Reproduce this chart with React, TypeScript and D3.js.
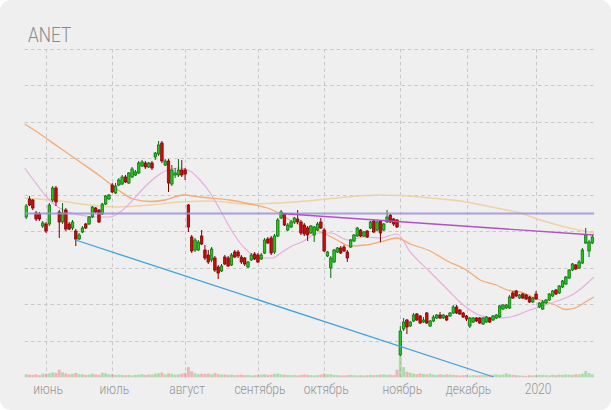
import React from "react";
import * as d3 from "d3";

const W = 611;
const H = 410;
const TICKER = "ANET";
const START_DAY = new Date(2019, 4, 23);
const END_DAY = new Date(2020, 0, 29);
const HOLIDAYS = ["2019-05-27", "2019-07-04", "2019-09-02", "2019-11-28", "2019-12-25", "2020-01-01", "2020-01-20"];
const MONTH_LABELS = ["июнь", "июль", "август", "сентябрь", "октябрь", "ноябрь", "декабрь", "2020"];

const OPEN = [261.5,270.5,270,263.5,263,257,258,258,270,276,
264,259,265,258,256,254.5,250.5,254,258,258,
261.5,266,265,263,268,270.5,277.5,273.5,277.5,278,
281.5,278.5,281.5,282.5,283.5,287,288.5,286.5,288.5,291.5,
293,298.5,287.5,289.5,278,282.5,282.5,285,285,267.5,
251.5,245,245,252,245,242.5,240,241,236.5,234.5,
241.5,241,237.5,244,244,241.5,241,236.5,240,243,
242.5,240.5,243.5,250.5,251,244,252,261,263,255,
256.5,259,260.5,259,257.5,256,253.5,252.5,255,259,
255,242,236,239,244,246,246.5,244,246.5,249.5,
252,255,252,254.5,256,259.5,255,259.5,255,259,
262.5,260.5,260,192.5,205.5,210,207,209.5,213,212,
209,213.5,207,209.5,211,212.5,211,212,212,213.5,
216.5,215,213.5,212,207,209,211,211,208,209,
211,210,211,211.5,215.5,216,216,223.5,224.5,221,
223,222.5,221.5,219,223,216.5,215.5,218.5,220,222,
225,223.5,226.5,228,231,235,237.5,236,238.5,248.5,
244.5,248.5];

const CLOSE = [267,267.5,266,260.5,260.5,258.5,254.5,267.5,276,269,
259,263.5,255.5,255.5,259,250.5,252.5,256,256,261.5,
266.5,264,259,268,272,272.5,274,277,280,281.5,
279,283.5,285.5,284,288.5,289,286.5,288.5,286,293.5,
297.5,289.5,289.5,278.5,285,283.5,285,282.5,283,256.5,
244.5,250,249,248,241,239,245.5,235,233.5,237,
238,237,242.5,241.5,242,239,238,239,242.5,240.5,
239,242.5,250,248.5,243.5,252,260,264,257.5,257.5,
259,261,259,253.5,253,252.5,257,256.5,258,256,
244.5,244,241,245,246,243.5,244.5,241,250,252.5,
256,252,254,251.5,259,254,259,253.5,258,261.5,
259,258,256.5,204.5,209,206.5,209,212.5,210,208.5,
210,208.5,209.5,211.5,212.5,211,212.5,210,213.5,216.5,
213.5,213,211.5,210.5,211,211,209.5,208.5,211,211.5,
209,212,212.5,217,217.5,217.5,221.5,221,222,222.5,
221,220.5,219,221,220.5,218.5,219,220,223,224.5,
223,227,229.5,231.5,235,238,235.5,239,245,252.5,
249,251.5];

const HIGH = [268,272,270.5,264.5,264,259.5,259,268.5,277,277,
265,268.5,266,259,260,255.5,253.5,257,258.5,262,
267,266.5,265.5,268.5,272.5,273,278.5,278.5,281,282.5,
282.5,284,286.5,285,289.5,290,289.5,289,289.5,294,
299.5,299.5,290.5,290.5,287.5,286,290.5,290,286,268,
252.5,251,250,255,247.5,245,246.5,242,237.5,238,
242.5,242,243.5,245,245,242.5,241.5,239.5,243.5,244,
243.5,243.5,251,251.5,252,253,261,265,263.5,258.5,
260,261.5,265,260,258.5,257,257.5,257,259,261,
256,244.5,242,245.5,246.5,247,247.5,245,250.5,253,
256.5,255.5,254.5,255,259.5,260,259.5,260,258.5,265,
263,261,260.5,207,211,210.5,209.5,213.5,213.5,212.5,
211.5,214,210,212.5,213,214,213,212.5,214,217.5,
217.5,215.5,214,212.5,211.5,211.5,211.5,211.5,211.5,212,
211.5,212.5,213,217.5,218,218,222.5,224.5,225,223,
223.5,223,222,221.5,224.5,219,220,220.5,223.5,225,
225.5,227.5,230,232,235.5,238.5,238,240,246,256,
250,252.5];

const LOW = [260.5,267,265,259.5,259.5,256,253.5,257,269,267,
251,258,254.5,255,255,247,250,253.5,255.5,257.5,
261,263.5,258.5,262.5,267.5,270,273.5,273,277,277.5,
278.5,278,281,282,283,286.5,285.5,286,285,290,
292,288.5,287,274,277,281,281.5,281.5,280,254,
243.5,244,244.5,247.5,240,238,239,234,230.5,234,
237.5,236.5,237,241,241,238,237,236,239.5,240,
238.5,240,243,248,242.5,243,251.5,260.5,257,254.5,
256,258,258,252.5,252,249.5,253,249,254.5,255.5,
244,241.5,231,238.5,243.5,243,244,239,246,249,
251.5,251.5,251.5,251,255.5,253.5,254.5,249,254.5,258.5,
258.5,257,256,192,204.5,203,206.5,209,209.5,208,
208.5,208,206.5,209,210.5,210.5,210.5,209.5,211.5,213,
213,212.5,211,209.5,206,208.5,209,208,207.5,208.5,
208.5,209.5,210.5,211,215,215.5,215.5,220.5,221.5,220.5,
220.5,220,218.5,218.5,220,216,215,218,219.5,221.5,
222.5,223,226,227.5,230.5,234.5,235,235.5,238,248,
241.5,248];

const VOLUME = [1.3,1.1,1.0,1.2,0.9,1.5,1.4,1.6,2.0,1.8,
3.0,2.0,1.6,1.2,1.4,1.8,1.3,1.2,1.0,1.1,
1.5,1.2,1.0,1.8,1.6,1.2,1.3,1.0,1.1,1.0,
0.9,1.0,0.8,1.0,1.1,1.3,1.0,1.2,1.1,1.5,
1.6,1.9,1.2,1.6,1.4,1.1,1.2,1.5,1.8,4.0,
2.4,1.6,1.3,1.5,1.4,1.5,1.2,1.7,1.3,1.1,
1.2,1.0,1.1,0.9,1.0,1.1,0.9,1.0,0.8,0.9,
1.0,1.1,1.3,1.0,1.1,1.4,1.5,1.2,1.1,1.0,
0.9,1.0,0.8,1.0,1.2,1.0,0.9,0.8,0.9,1.1,
1.5,1.2,1.3,1.0,0.9,0.8,0.8,0.9,1.0,0.9,
0.8,0.9,0.8,0.9,1.0,0.9,1.0,1.1,1.2,1.0,
1.1,0.9,3.0,8.2,4.0,2.2,1.8,1.5,1.3,1.6,
1.4,1.2,1.5,1.1,1.0,1.3,1.0,1.2,1.1,1.0,
0.9,0.8,0.9,1.0,0.8,0.9,0.8,0.9,1.0,0.9,
1.0,1.1,1.2,1.0,1.1,1.6,1.2,1.0,0.9,0.8,
0.7,0.6,0.9,0.8,0.9,1.0,1.0,0.9,0.8,1.0,
0.9,1.1,1.0,1.2,1.1,1.0,1.3,1.2,1.5,2.5,
1.7,1.2];

// moving averages sampled as [trading-day index, value]
const MA_FAST = [[-0.5,286],[2.7,279],[5.7,272.5],[8.7,267.5],[11.8,264.5],[16.3,262.5],[20.8,261.5],[25.3,261.5],
[28.4,264],[31.4,268.5],[34.4,274],[37.4,279],[40.4,283],[43.5,285.5],[46.5,286],[49.5,284.5],[52.5,280],
[55.6,273.5],[58.6,265],[61.6,256],[64.6,248.5],[67.6,243.5],[70.7,241],[74.3,241],[77.3,244],[80.3,247],
[83.3,249],[88.2,253.5],[92.1,253.5],[97.2,250],[102.4,251.5],[106.9,251],[112,253],[116,244],[122,234],
[128,224],[131,219],[134.1,215],[137.1,212.25],[142,211],[146.2,211.5],[152.2,215],[156.8,217.5],
[161.3,220],[165.8,223.5],[168.9,227.5],[171.5,231.5]];

const MA_MID = [[-0.5,308],[4.2,303],[10.2,296],[16.3,289],[22.3,282],[27.8,275],[32.3,270.5],[37.4,269.25],
[42,270],[47.4,272.5],[52.5,271.5],[61.6,270],[67.6,268],[73.7,265.5],[77.3,262.5],[80.6,259],[84.9,256.5],
[89.7,253.5],[93.9,250],[97.8,247],[102.4,247.5],[106.9,249],[112,251],[116,248],[122,244.5],[127.2,239.5],
[132.9,235],[137.1,230],[142,227.5],[145.3,225],[149.2,224],[154.4,220.5],[159.8,217.5],[162.8,215.25],
[165.8,216],[168.9,219],[171.5,221.5]];

const MA_SLOW = [[-0.5,271],[10.2,269.5],[19.3,267.5],[28.4,266.5],[37.4,267.5],[46.5,269],[55.6,269.5],
[66.7,268],[76.7,268.5],[86.7,269.75],[97,271.5],[106.9,272.5],[112.9,272.25],[122,271],[132.9,269],
[142,266],[149.2,263.5],[155.3,260],[162.8,256.5],[171.5,253.5]];

const LEVEL = 263.25;
const RESISTANCE = [[77, 263.25], [171.5, 252.5]];
const SUPPORT = [[14.9, 250], [141.2, 181.5]];

const fmt = d3.timeFormat("%Y-%m-%d");
const DATES = d3.timeDay
  .range(START_DAY, END_DAY)
  .filter((d) => d.getDay() !== 0 && d.getDay() !== 6 && !HOLIDAYS.includes(fmt(d)));

const FONT = "Roboto, 'Noto Sans', sans-serif";

export default function App() {
  const N = OPEN.length;
  const left = 24.5, right = 594, top = 49, bottom = 377.5;
  const x = d3.scaleLinear().domain([-0.5, N - 0.5]).range([left, right]);
  const y = d3.scaleLinear().domain([181.5, 345.5]).range([377, 49]);
  const vol = d3.scaleLinear().domain([0, 10]).range([0, 26]);
  const step = (right - left) / N;
  const bw = step * 0.76;

  const monthStarts: number[] = [];
  DATES.forEach((d, i) => {
    if (i > 0 && d.getMonth() !== DATES[i - 1].getMonth()) monthStarts.push(i);
  });

  const hGrid = d3.range(9).map((k) => top + (k * (bottom - 0.5 - top)) / 9);

  const line = d3.line<number[]>().x((d) => x(d[0])).y((d) => y(d[1])).curve(d3.curveMonotoneX);
  const straight = d3.line<number[]>().x((d) => x(d[0])).y((d) => y(d[1]));

  const up = (i: number) => CLOSE[i] >= OPEN[i];

  return (
    <div style={{ position: "fixed", left: 0, top: 0, width: W, height: H, background: "#fff" }}>
      <svg width={W} height={H} style={{ display: "block" }}>
        <defs>
          <clipPath id="plot">
            <rect x={left} y={top} width={right - left} height={bottom - top} />
          </clipPath>
        </defs>
        <rect x={0} y={0} width={W} height={H} rx={11} fill="#efefef" />
        <text
          transform="translate(28,42) scale(0.86,1)"
          fontFamily={FONT}
          fontWeight={300}
          fontSize={20}
          fill="#8a8a8a"
        >
          {TICKER}
        </text>

        <g stroke="#c9c9c9" strokeWidth={1} strokeDasharray="3.5,3">
          {hGrid.map((gy, k) => (
            <line key={"h" + k} x1={left} x2={right} y1={Math.round(gy) + 0.5} y2={Math.round(gy) + 0.5} />
          ))}
          {monthStarts.map((i) => (
            <line key={"v" + i} x1={Math.round(x(i)) + 0.5} x2={Math.round(x(i)) + 0.5} y1={top} y2={bottom} />
          ))}
        </g>

        <g clipPath="url(#plot)">
          {VOLUME.map((v, i) => (
            <rect
              key={"vol" + i}
              x={x(i) - step / 2 + 0.2}
              y={bottom - vol(v)}
              width={step - 0.4}
              height={vol(v)}
              fill={up(i) ? "rgba(90,195,90,0.45)" : "rgba(240,110,110,0.45)"}
            />
          ))}

          <path d={line(MA_SLOW) || ""} fill="none" stroke="#edcf9c" strokeWidth={1.5} opacity={0.9} />
          <path d={line(MA_MID) || ""} fill="none" stroke="#f5a465" strokeWidth={1.3} opacity={0.9} />
          <path d={line(MA_FAST) || ""} fill="none" stroke="#e6a6dc" strokeWidth={1.2} opacity={0.9} />

          {OPEN.map((o, i) => {
            const c = CLOSE[i];
            const g = up(i);
            const cx = x(i);
            const yTop = y(Math.max(o, c));
            const yBot = y(Math.min(o, c));
            return (
              <g key={"c" + i}>
                <line x1={cx} x2={cx} y1={y(HIGH[i])} y2={y(LOW[i])} stroke={g ? "#0a6a0a" : "#7a0000"} strokeWidth={1} />
                <rect
                  x={cx - bw / 2}
                  y={yTop}
                  width={bw}
                  height={Math.max(1, yBot - yTop)}
                  fill={g ? "#22c422" : "#cc0a0a"}
                  stroke={g ? "#0a6a0a" : "#7a0000"}
                  strokeWidth={0.7}
                />
              </g>
            );
          })}

          <line x1={left} x2={right} y1={y(LEVEL)} y2={y(LEVEL)} stroke="#9d92df" strokeWidth={2} opacity={0.85} />
          <path d={straight(RESISTANCE) || ""} fill="none" stroke="#b050c6" strokeWidth={1.4} />
          <path d={straight(SUPPORT) || ""} fill="none" stroke="#3ea2de" strokeWidth={1.3} />
        </g>

        {monthStarts.map((i, k) => (
          <text
            key={"l" + i}
            transform={`translate(${x(i) + 2},394) scale(0.86,1)`}
            textAnchor="middle"
            fontFamily={FONT}
            fontWeight={300}
            fontSize={14}
            fill="#959595"
          >
            {MONTH_LABELS[k]}
          </text>
        ))}
      </svg>
    </div>
  );
}
